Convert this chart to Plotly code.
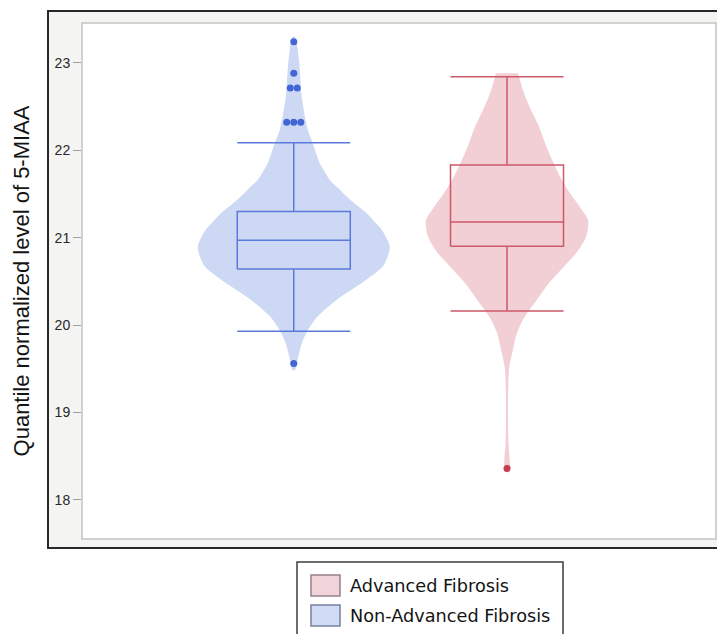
import plotly.graph_objects as go

# ---------------- data ----------------
groups = ["Non-Advanced Fibrosis", "Advanced Fibrosis"]
legend_order = ["Advanced Fibrosis", "Non-Advanced Fibrosis"]

# box statistics
q1 = [20.64, 20.90]
median = [20.97, 21.18]
q3 = [21.30, 21.83]
lower_whisker = [19.93, 20.16]
upper_whisker = [22.085, 22.84]

# outliers per group
outliers_nonadv = [23.24, 22.88, 22.71, 22.71, 22.32, 22.32, 22.32, 19.56]
outliers_adv = [18.36]

# violin density profiles (level, relative density)
nonadv_level = [23.30, 23.29, 23.00, 22.61, 22.23, 22.08, 21.85, 21.75, 21.66, 21.56,
                21.47, 21.37, 21.28, 21.18, 21.09, 20.90, 20.79, 20.67, 20.48, 20.29,
                20.10, 19.94, 19.79, 19.64, 19.49, 19.48]
nonadv_density = [0.0, 0.016, 0.057, 0.083, 0.146, 0.198, 0.271, 0.323, 0.375, 0.469,
                  0.552, 0.656, 0.760, 0.844, 0.917, 1.0, 0.98, 0.927, 0.708, 0.448,
                  0.25, 0.146, 0.083, 0.047, 0.016, 0.0]

adv_level = [22.88, 22.65, 22.46, 22.27, 22.08, 21.89, 21.70, 21.51, 21.35, 21.20,
             21.01, 20.82, 20.67, 20.48, 20.29, 20.10, 19.91, 19.72, 19.52, 19.33,
             18.95, 18.65, 18.50, 18.34, 18.31]
adv_density = [0.115, 0.177, 0.25, 0.333, 0.396, 0.469, 0.552, 0.656, 0.760, 0.844,
               0.823, 0.719, 0.594, 0.4375, 0.3125, 0.1875, 0.104, 0.0625, 0.024, 0.0135,
               0.0104, 0.0156, 0.026, 0.026, 0.0]

y_ticks = [18, 19, 20, 21, 22, 23]
y_title = "Quantile normalized level of 5-MIAA"

# ---------------- styling ----------------
W, H = 717, 634
ML, MR, MT, MB = 82, 1, 23, 95
PW, PH = W - ML - MR, H - MT - MB

styles = {
    "Non-Advanced Fibrosis": dict(fill="rgb(204,216,244)", line="rgb(92,122,220)",
                                  dot="rgb(66,102,212)", swatch="rgb(208,220,246)",
                                  swatch_line="rgb(120,128,160)"),
    "Advanced Fibrosis": dict(fill="rgb(241,207,213)", line="rgb(205,88,104)",
                              dot="rgb(200,60,82)", swatch="rgb(240,212,217)",
                              swatch_line="rgb(150,128,140)"),
}
DENS_SCALE = 0.45   # half width (x units) of density 1
BOX_W = 0.53
DODGE = 0.033

def px_x(p):
    return (p - ML) / PW

def px_y(p):
    return (H - MB - p) / PH

fig = go.Figure()

profiles = {
    "Non-Advanced Fibrosis": (nonadv_level, nonadv_density, outliers_nonadv),
    "Advanced Fibrosis": (adv_level, adv_density, outliers_adv),
}

for i, g in enumerate(groups):
    lev, dens, outs = profiles[g]
    st = styles[g]
    # violin body
    xs = [i + DENS_SCALE * d for d in dens] + [i - DENS_SCALE * d for d in reversed(dens)]
    ys = list(lev) + list(reversed(lev))
    fig.add_trace(go.Scatter(x=xs, y=ys, mode="lines", fill="toself",
                             fillcolor=st["fill"], line=dict(width=0, shape="spline", smoothing=0.8),
                             hoverinfo="skip", showlegend=False))
    # box + whiskers, built from the statistics
    hw = BOX_W / 2
    L, R = i - hw, i + hw
    bx = [L, R, R, L, L, None, L, R, None, i, i, None, L, R, None, i, i, None, L, R]
    by = [q1[i], q1[i], q3[i], q3[i], q1[i], None,
          median[i], median[i], None,
          q3[i], upper_whisker[i], None, upper_whisker[i], upper_whisker[i], None,
          q1[i], lower_whisker[i], None, lower_whisker[i], lower_whisker[i]]
    fig.add_trace(go.Scatter(x=bx, y=by, mode="lines",
                             line=dict(color=st["line"], width=1.5),
                             hoverinfo="skip", showlegend=False, name=g))
    # outliers, equal values dodged horizontally
    counts = {}
    for v in outs:
        counts[v] = counts.get(v, 0) + 1
    seen = {}
    ox, oy = [], []
    for v in outs:
        n = counts[v]
        k = seen.get(v, 0)
        seen[v] = k + 1
        ox.append(i + (k - (n - 1) / 2) * DODGE)
        oy.append(v)
    fig.add_trace(go.Scatter(x=ox, y=oy, mode="markers",
                             marker=dict(color=st["dot"], size=7),
                             hoverinfo="skip", showlegend=False))

shapes = [
    # outer frame
    dict(type="rect", xref="paper", yref="paper", x0=px_x(48), x1=px_x(730),
         y0=px_y(548), y1=px_y(11), fillcolor="rgb(244,244,242)",
         line=dict(color="rgb(40,40,40)", width=2), layer="below"),
    # inner plot area
    dict(type="rect", xref="paper", yref="paper", x0=0, x1=1, y0=0, y1=1,
         fillcolor="white", line=dict(color="rgb(196,196,196)", width=1.5), layer="below"),
    # legend box
    dict(type="rect", xref="paper", yref="paper", x0=px_x(297), x1=px_x(563),
         y0=px_y(645), y1=px_y(562), fillcolor="white",
         line=dict(color="rgb(60,60,60)", width=1.5), layer="below"),
]
annotations = []
for j, g in enumerate(legend_order):
    st = styles[g]
    top = 575 + j * 30
    shapes.append(dict(type="rect", xref="paper", yref="paper", x0=px_x(311), x1=px_x(340),
                       y0=px_y(top + 21), y1=px_y(top), fillcolor=st["swatch"],
                       line=dict(color=st["swatch_line"], width=1.5)))
    annotations.append(dict(x=px_x(348), y=px_y(top + 11), xref="paper", yref="paper",
                            text=g, showarrow=False, xanchor="left", yanchor="middle",
                            font=dict(family="DejaVu Sans", size=17.7, color="rgb(20,20,20)")))

fig.update_layout(
    width=W, height=H,
    margin=dict(l=ML, r=MR, t=MT, b=MB),
    paper_bgcolor="white", plot_bgcolor="rgba(0,0,0,0)",
    shapes=shapes, annotations=annotations, showlegend=False,
    xaxis=dict(range=[-0.993, 1.98], showticklabels=False, ticks="", showgrid=False,
               zeroline=False, showline=False, fixedrange=True),
    yaxis=dict(range=[17.554, 23.454], tickvals=y_ticks, ticks="outside", ticklen=8,
               tickcolor="rgb(160,160,160)", tickwidth=1, showgrid=False, zeroline=False,
               showline=False, ticklabelstandoff=0,
               tickfont=dict(family="Liberation Sans", size=14, color="rgb(40,40,40)"),
               title=dict(text=y_title, standoff=18,
                          font=dict(family="Liberation Sans", size=22, color="rgb(20,20,20)"))),
)

fig.write_html("out.html")
